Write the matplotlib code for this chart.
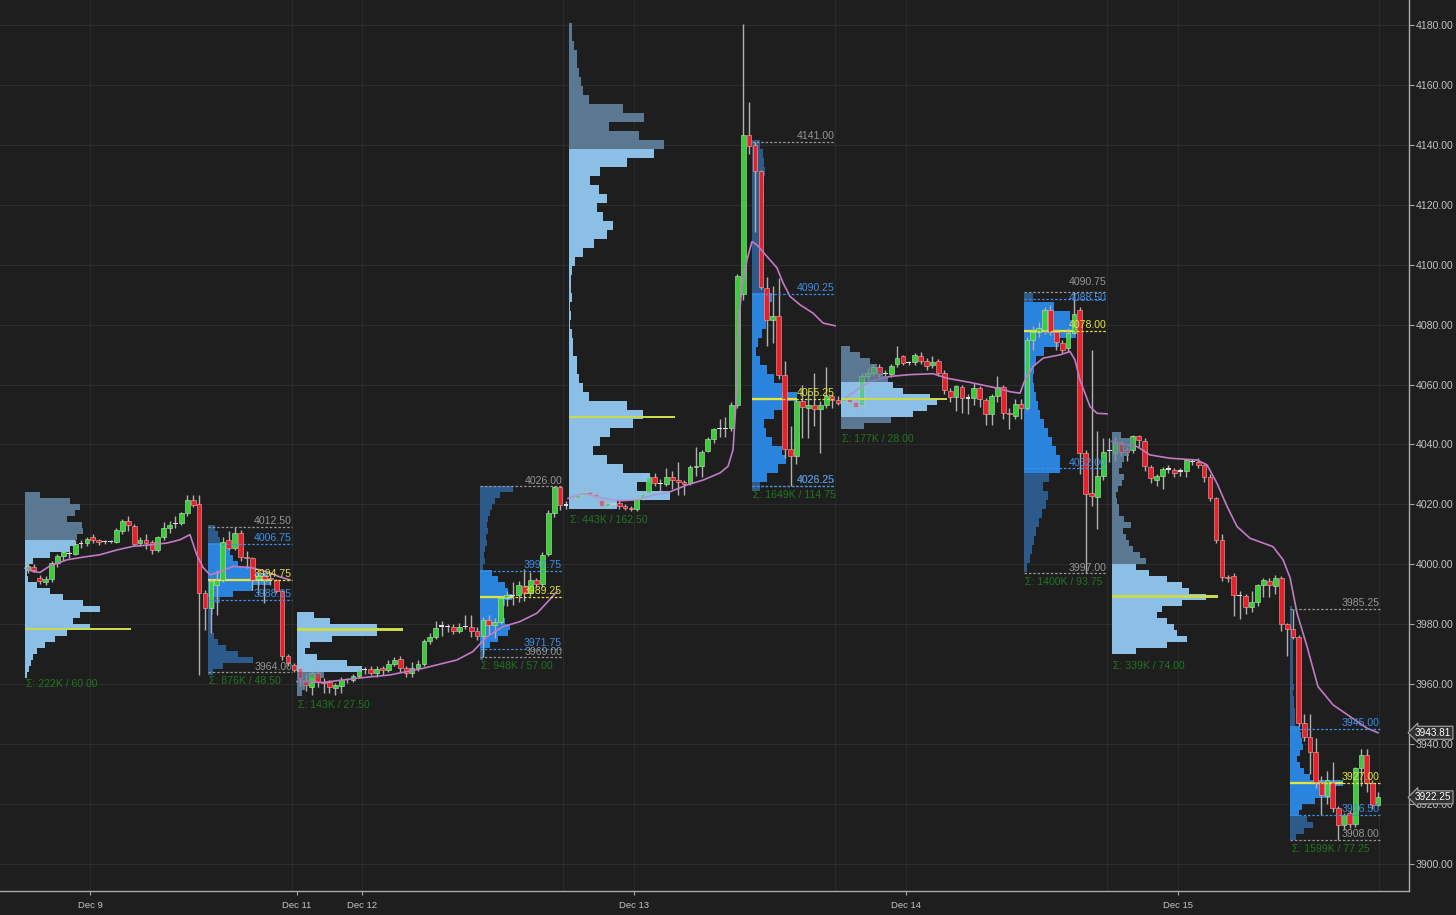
import matplotlib
matplotlib.use('Agg')
import matplotlib.pyplot as plt
import matplotlib.transforms as mtransforms
import numpy as np

plt.rcParams['font.family'] = ['Liberation Sans', 'DejaVu Sans']

BG = '#1e1e1e'

# ---------------- axis data ----------------
# x axis: chart time in hours (Dec 9 00:00 = 0, weekend removed)
date_labels = ['Dec 9', 'Dec 11', 'Dec 12', 'Dec 13', 'Dec 14', 'Dec 15']
date_pos = [0.0, 18.26, 24.0, 48.0, 72.0, 96.0]
vgrid_pos = [0.0, 17.8, 24.0, 41.7, 48.0, 65.7, 72.0, 89.7, 96.0, 113.7]
y_ticks = list(range(3900, 4181, 20))

# session start / end times (hours)
sess_start = [-5.74, 10.41, 18.26, 34.41, 42.26, 58.41, 66.26, 82.41, 90.18, 105.9]
sess_end = [10.41, 18.26, 34.41, 42.26, 58.41, 66.26, 82.41, 90.18, 105.9, 113.9]
rth_line_end = [17.82, 41.65, 65.7, 89.7, 113.8]

# ---------------- candles (open, high, low, close) ----------------
s1 = [(3998.0, 4002.0, 3997.0, 3999.5), (3999.0, 4000.0, 3997.5, 3998.0), (3995.5, 3996.5, 3993.5, 3994.3),
      (3994.0, 3996.0, 3993.0, 3995.0), (3995.1, 4001.0, 3994.0, 4000.4), (4000.4, 4003.5, 3999.0, 4002.8),
      (4002.8, 4005.5, 4001.0, 4004.0), (4003.5, 4004.5, 4002.0, 4003.5), (4003.5, 4008.0, 4003.0, 4006.7),
      (4006.7, 4008.0, 4005.5, 4007.0), (4007.0, 4009.0, 4006.0, 4008.3), (4009.0, 4010.0, 4007.0, 4008.0),
      (4008.0, 4008.5, 4006.5, 4007.5), (4007.5, 4008.0, 4006.8, 4007.6), (4007.6, 4008.0, 4007.0, 4007.8),
      (4007.6, 4012.0, 4007.0, 4011.3), (4011.0, 4015.0, 4010.0, 4014.3), (4014.6, 4016.0, 4011.0, 4013.2),
      (4012.9, 4013.5, 4006.0, 4006.9), (4007.0, 4009.0, 4006.0, 4008.0), (4008.0, 4010.0, 4005.0, 4007.0),
      (4007.3, 4008.0, 4003.5, 4004.8), (4004.8, 4009.5, 4004.0, 4009.0), (4009.0, 4014.0, 4008.0, 4012.0),
      (4012.0, 4014.5, 4010.5, 4013.2), (4013.5, 4016.0, 4012.0, 4013.8), (4013.7, 4017.5, 4013.0, 4017.0),
      (4017.0, 4023.0, 4016.0, 4021.3), (4021.3, 4023.0, 4019.0, 4019.9), (4020.2, 4023.2, 3963.1, 3990.4),
      (3990.4, 3991.5, 3978.2, 3985.4)]
s2 = [(3985.4, 3995.0, 3977.0, 3994.3), (3993.0, 3998.0, 3983.0, 3994.8), (3994.8, 4009.0, 3994.0, 4007.6),
      (4008.0, 4011.0, 4004.8, 4005.4), (4005.4, 4012.5, 4004.8, 4010.4), (4010.4, 4011.5, 4001.0, 4002.6),
      (4002.6, 4004.3, 3998.7, 4002.2), (4002.1, 4002.6, 3991.5, 3994.8), (3995.0, 3997.6, 3989.8, 3996.0),
      (3996.0, 3997.0, 3987.0, 3995.0), (3995.5, 3997.0, 3993.0, 3995.0), (3994.8, 3995.0, 3990.4, 3991.0),
      (3991.0, 3991.5, 3968.0, 3969.3), (3969.3, 3970.0, 3966.0, 3967.0), (3966.5, 3967.0, 3964.0, 3964.8)]
s3 = [(3965.3, 3967.0, 3959.3, 3962.0), (3961.5, 3963.7, 3957.6, 3959.8), (3959.2, 3964.8, 3956.5, 3963.9),
      (3963.9, 3965.0, 3959.0, 3960.9), (3960.9, 3962.0, 3957.0, 3960.3), (3960.9, 3961.5, 3957.0, 3959.0),
      (3958.6, 3960.5, 3956.5, 3959.7), (3959.5, 3962.5, 3957.0, 3961.5), (3961.5, 3962.0, 3960.5, 3961.7),
      (3961.5, 3963.5, 3960.8, 3962.6), (3962.6, 3965.5, 3962.0, 3964.8), (3964.8, 3965.8, 3963.5, 3964.8),
      (3965.0, 3966.0, 3963.0, 3963.7), (3963.7, 3966.0, 3962.5, 3965.0), (3965.3, 3966.0, 3963.0, 3964.8),
      (3964.8, 3968.0, 3964.0, 3966.8), (3966.8, 3969.0, 3966.0, 3968.1), (3968.3, 3969.5, 3964.0, 3965.3),
      (3965.3, 3966.0, 3962.5, 3963.9), (3963.9, 3967.5, 3962.5, 3965.3), (3965.3, 3968.0, 3964.5, 3966.8),
      (3966.8, 3975.0, 3966.0, 3974.5), (3974.5, 3977.0, 3973.5, 3975.9), (3975.6, 3981.0, 3975.0, 3978.9),
      (3979.4, 3981.0, 3976.0, 3979.5), (3979.5, 3980.0, 3977.5, 3979.2), (3979.0, 3980.0, 3976.8, 3977.9),
      (3977.9, 3980.5, 3977.0, 3979.0), (3979.2, 3983.0, 3978.3, 3979.5), (3979.2, 3983.0, 3975.7, 3977.6),
      (3977.6, 3979.0, 3974.6, 3976.0)]
s4 = [(3976.1, 3982.5, 3969.0, 3981.4), (3981.4, 3983.0, 3976.5, 3979.8), (3979.8, 3982.0, 3975.5, 3980.6),
      (3980.9, 3989.5, 3980.0, 3988.7), (3988.7, 3991.0, 3986.0, 3989.8), (3989.8, 3994.0, 3986.5, 3989.6),
      (3989.8, 3994.5, 3987.5, 3993.1), (3992.8, 3998.5, 3987.8, 3990.3), (3990.3, 3997.5, 3989.5, 3994.8),
      (3994.8, 3995.5, 3992.5, 3993.4), (3993.4, 4004.0, 3992.5, 4003.1), (4003.5, 4018.0, 4002.8, 4017.2),
      (4017.2, 4026.0, 4015.8, 4025.9), (4025.9, 4026.0, 4018.0, 4019.8), (4019.8, 4021.0, 4018.5, 4019.8)]
s5 = [(4022.5, 4023.5, 4021.0, 4022.0), (4022.0, 4024.0, 4020.5, 4023.0), (4023.0, 4026.0, 4022.5, 4024.0),
      (4024.0, 4025.0, 4022.5, 4023.5), (4023.5, 4024.0, 4021.0, 4022.3), (4021.4, 4022.0, 4018.8, 4019.5),
      (4019.5, 4022.0, 4019.0, 4020.6), (4020.1, 4021.0, 4019.0, 4020.2), (4020.6, 4021.5, 4018.5, 4019.5),
      (4019.5, 4020.0, 4018.0, 4018.7), (4018.7, 4019.5, 4017.75, 4018.3), (4018.4, 4023.0, 4017.8, 4022.0),
      (4022.2, 4024.5, 4021.5, 4023.5), (4023.7, 4030.0, 4022.5, 4029.3), (4029.3, 4030.5, 4026.0, 4027.0),
      (4027.0, 4028.5, 4023.5, 4027.0), (4026.8, 4032.0, 4026.0, 4029.3), (4029.0, 4031.0, 4025.0, 4028.0),
      (4028.1, 4034.0, 4023.0, 4027.6), (4027.6, 4028.0, 4023.0, 4026.8), (4027.0, 4033.0, 4026.5, 4032.4),
      (4032.4, 4039.0, 4029.5, 4032.8), (4032.8, 4038.0, 4029.0, 4037.6), (4037.9, 4042.5, 4037.5, 4041.7),
      (4041.7, 4045.5, 4040.5, 4045.0), (4045.2, 4048.5, 4042.5, 4045.4), (4045.4, 4049.0, 4042.5, 4045.3),
      (4045.4, 4054.0, 4044.5, 4053.2), (4053.0, 4097.0, 4052.0, 4096.1), (4090.3, 4180.25, 4088.3, 4143.3),
      (4143.3, 4154.1, 4137.0, 4139.7)]
s6 = [(4140.0, 4141.0, 4111.0, 4131.1), (4131.1, 4131.5, 4092.0, 4092.7), (4092.2, 4096.0, 4073.0, 4081.6),
      (4081.6, 4093.0, 4074.0, 4083.0), (4083.0, 4095.5, 4062.0, 4063.3), (4063.3, 4068.0, 4035.5, 4038.5),
      (4038.5, 4046.0, 4026.25, 4036.0), (4036.0, 4055.0, 4033.5, 4054.4), (4054.4, 4060.0, 4042.0, 4052.5),
      (4052.0, 4058.0, 4042.0, 4053.2), (4053.2, 4064.0, 4046.0, 4051.8), (4051.8, 4054.5, 4037.0, 4053.3),
      (4053.3, 4066.0, 4052.0, 4056.0), (4056.3, 4057.0, 4052.0, 4054.9), (4054.9, 4056.0, 4053.0, 4053.8)]
s7 = [(4054.5, 4056.0, 4053.5, 4055.2), (4055.0, 4056.0, 4052.5, 4054.0), (4054.0, 4056.0, 4050.5, 4052.5),
      (4053.3, 4064.0, 4051.5, 4062.7), (4062.7, 4065.5, 4061.5, 4064.0), (4064.0, 4067.0, 4063.0, 4066.0),
      (4066.0, 4067.0, 4062.5, 4063.6), (4063.6, 4065.0, 4062.5, 4063.8), (4063.6, 4067.0, 4062.6, 4066.3),
      (4066.8, 4073.0, 4066.0, 4069.0), (4069.4, 4070.0, 4066.5, 4067.2), (4067.5, 4068.0, 4066.5, 4067.3),
      (4067.4, 4070.5, 4066.5, 4069.7), (4069.4, 4071.0, 4067.0, 4068.0), (4068.0, 4069.0, 4065.0, 4066.3),
      (4066.5, 4069.5, 4065.5, 4067.5), (4067.7, 4068.5, 4063.0, 4064.0), (4064.0, 4065.0, 4057.0, 4058.3),
      (4058.0, 4059.0, 4054.0, 4055.8), (4055.8, 4060.0, 4051.0, 4059.4), (4059.2, 4060.0, 4050.5, 4055.5),
      (4055.5, 4057.0, 4050.0, 4055.6), (4055.5, 4060.5, 4053.0, 4058.8), (4058.8, 4059.5, 4052.5, 4055.1),
      (4054.9, 4055.5, 4046.5, 4050.3), (4050.3, 4057.0, 4046.5, 4056.0), (4056.0, 4063.0, 4054.0, 4059.1),
      (4059.1, 4060.0, 4048.5, 4050.4), (4050.5, 4052.0, 4045.0, 4050.0), (4049.6, 4055.0, 4048.5, 4053.6),
      (4053.6, 4055.0, 4048.5, 4052.2)]
s8 = [(4052.1, 4076.0, 4051.5, 4074.9), (4074.9, 4079.5, 4071.5, 4077.6), (4077.6, 4081.0, 4076.0, 4078.8),
      (4078.2, 4086.0, 4077.0, 4084.9), (4084.9, 4086.5, 4076.5, 4077.6), (4077.6, 4078.5, 4071.5, 4074.3),
      (4073.8, 4075.0, 4070.5, 4071.5), (4072.1, 4079.0, 4071.0, 4077.1), (4077.3, 4090.75, 4077.0, 4083.4),
      (4084.9, 4086.0, 4030.0, 4037.1), (4037.3, 4038.0, 3997.0, 4023.5), (4023.7, 4071.5, 4019.3, 4022.8),
      (4022.6, 4044.5, 4011.8, 4029.5), (4029.5, 4042.0, 4028.0, 4037.6), (4038.0, 4042.0, 4034.0, 4038.0)]
s9 = [(4037.1, 4042.5, 4034.5, 4040.4), (4040.0, 4041.0, 4036.0, 4037.6), (4038.0, 4039.0, 4034.5, 4037.5),
      (4038.0, 4043.25, 4037.0, 4042.9), (4042.9, 4043.0, 4039.0, 4041.5), (4041.3, 4042.0, 4031.0, 4032.8),
      (4032.6, 4033.0, 4027.0, 4028.7), (4028.3, 4030.0, 4026.0, 4029.4), (4029.4, 4032.5, 4025.0, 4031.7),
      (4031.7, 4033.0, 4030.5, 4031.8), (4031.5, 4032.0, 4029.0, 4030.6), (4031.0, 4032.0, 4029.5, 4031.2),
      (4031.0, 4035.0, 4029.0, 4034.8), (4034.3, 4035.0, 4033.0, 4034.2), (4034.3, 4035.5, 4032.0, 4033.2),
      (4033.2, 4033.5, 4027.5, 4029.3), (4029.3, 4030.0, 4021.0, 4022.1), (4022.1, 4022.5, 4007.0, 4008.2),
      (4008.2, 4010.0, 3994.5, 3995.9), (3995.9, 3996.5, 3994.0, 3995.3), (3996.2, 3997.0, 3982.8, 3989.8),
      (3989.8, 3991.0, 3981.7, 3989.6), (3989.5, 3990.0, 3983.5, 3985.9), (3985.7, 3991.0, 3984.0, 3987.3),
      (3987.3, 3993.5, 3986.0, 3993.2), (3993.0, 3995.5, 3989.0, 3994.8), (3994.6, 3995.5, 3989.0, 3993.0),
      (3992.8, 3996.5, 3990.0, 3995.5), (3995.3, 3996.0, 3977.7, 3980.1), (3980.1, 3980.5, 3969.25, 3978.4)]
s10 = [(3978.4, 3985.25, 3975.0, 3975.9), (3975.9, 3976.5, 3946.0, 3947.0), (3947.0, 3950.0, 3941.0, 3942.5),
       (3942.5, 3950.0, 3930.0, 3937.5), (3937.5, 3942.0, 3925.5, 3927.5), (3927.5, 3929.5, 3916.5, 3923.1),
       (3922.7, 3931.0, 3920.0, 3928.1), (3927.5, 3934.0, 3917.5, 3918.6), (3918.6, 3919.5, 3908.0, 3913.1),
       (3913.1, 3917.0, 3911.5, 3916.4), (3917.0, 3918.0, 3912.0, 3913.4), (3913.4, 3932.5, 3912.5, 3932.0),
       (3932.0, 3938.5, 3926.0, 3936.4), (3936.4, 3938.5, 3924.0, 3927.0), (3927.0, 3928.0, 3918.5, 3919.7),
       (3919.7, 3924.0, 3919.5, 3922.25)]
sessions = [s1, s2, s3, s4, s5, s6, s7, s8, s9, s10]

# ---------------- VWAP per trading day (time h, price) ----------------
vwap1_t = [-5.74, -5.03, -4.41, -3.53, -2.03, -0.62, 0.88, 2.38, 3.79, 5.29, 6.79, 7.94, 8.82, 9.44, 9.97,
           10.59, 11.47, 12.62, 14.12, 15.62, 16.76, 17.65]
vwap1_v = [3998.7, 3997.6, 3997.3, 3999.5, 4001.5, 4002.4, 4003.2, 4004.8, 4006.0, 4006.5, 4007.1, 4008.2,
           4009.9, 4003.0, 3999.0, 3996.5, 3997.5, 3999.3, 3999.0, 3997.5, 3995.8, 3994.8]
vwap2_t = [18.26, 20.56, 23.56, 26.47, 29.38, 32.38, 33.79, 35.03, 36.44, 37.94, 39.44, 40.41, 41.21]
vwap2_v = [3960.9, 3960.6, 3962.0, 3963.1, 3965.3, 3968.1, 3970.9, 3975.9, 3979.2, 3980.9, 3983.7, 3987.6, 3991.0]
vwap3_t = [42.18, 43.50, 45.26, 46.77, 48.27, 49.68, 51.18, 52.68, 54.09, 55.59, 56.30, 56.74, 57.09, 57.26,
           57.53, 57.97, 58.41, 58.85, 59.74, 60.62, 61.15, 61.77, 62.65, 63.80, 64.68, 65.74]
vwap3_v = [4022.0, 4023.7, 4022.0, 4021.2, 4021.5, 4023.1, 4024.2, 4026.5, 4028.1, 4030.5, 4032.7, 4038.3,
           4059.4, 4081.6, 4092.7, 4101.6, 4107.7, 4106.6, 4102.7, 4098.9, 4093.9, 4089.4, 4086.6, 4083.8,
           4080.5, 4079.6]
vwap4_t = [66.44, 67.68, 68.82, 70.59, 72.35, 74.38, 75.62, 77.65, 80.03, 81.18, 82.06, 82.50, 83.21, 84.09,
           85.59, 86.47, 86.91, 87.35, 88.24, 88.85, 89.74]
vwap4_v = [4054.9, 4058.3, 4061.0, 4062.7, 4063.3, 4063.6, 4062.1, 4060.7, 4058.8, 4057.6, 4057.1, 4061.5,
           4066.0, 4068.8, 4069.9, 4071.0, 4068.2, 4061.5, 4052.6, 4050.4, 4050.2]
vwap5_t = [90.18, 91.33, 92.38, 93.53, 95.30, 97.68, 98.56, 99.44, 100.33, 101.21, 102.35, 104.38, 105.27,
           105.89, 106.50, 107.38, 108.35, 109.68, 111.18, 112.68, 113.65]
vwap5_v = [4041.0, 4040.0, 4039.3, 4036.5, 4035.4, 4034.8, 4033.2, 4027.0, 4019.3, 4012.6, 4008.7, 4005.9,
           4001.5, 3995.5, 3983.7, 3972.6, 3959.2, 3953.1, 3949.2, 3945.3, 3943.8]
vwaps = [(vwap1_t, vwap1_v), (vwap2_t, vwap2_v), (vwap3_t, vwap3_v), (vwap4_t, vwap4_v), (vwap5_t, vwap5_v)]

# ---------------- volume profiles ----------------
profA_vol = [15, 45, 55, 50, 42, 57, 58, 52, 50, 45, 25, 8, 3, 2, 3, 12, 25, 38, 58, 75, 55, 48, 65, 42, 30, 20,
             12, 8, 6, 4, 2]
profC_vol = [17, 33, 80, 80, 35, 13, 8, 20, 50, 65, 27, 13, 8, 5]
profE_vol = [3, 3, 5, 8, 8, 10, 12, 14, 20, 54, 75, 40, 70, 95, 85, 58, 31, 21, 30, 38, 28, 34, 44, 38, 25, 14, 6,
             3, 2, 2, 3, 1, 2, 1, 3, 4, 4, 8, 8, 10, 14, 20, 58, 74, 64, 41, 31, 24, 38, 54, 81, 68, 101, 48]
profG_vol = [9, 19, 29, 36, 42, 47, 52, 62, 89, 96, 86, 72, 50, 23]
profI_vol = [9, 21, 22, 17, 12, 10, 7, 12, 10, 6, 4, 5, 7, 7, 12, 19, 11, 14, 17, 21, 28, 34, 24, 37, 55, 70, 77,
             94, 70, 50, 45, 55, 62, 65, 75, 55, 24]
# (left, top level, step, volumes, VA high, VA low, POC, label, session low)
eth_profiles = [
    (sess_start[0], 4023, 2, profA_vol, 4008.5, 3900.0, 3978.5, 'Σ: 222K / 60.00', 3963.25),
    (sess_start[2], 3983, 2, profC_vol, 4100.0, 3964.5, 3978.25, 'Σ: 143K / 27.50', 3956.0),
    (sess_start[4], 4179, 3, profE_vol, 4137.0, 3900.0, 4049.25, 'Σ: 443K / 162.50', 4017.75),
    (sess_start[6], 4072, 2, profG_vol, 4060.5, 4048.5, 4055.25, 'Σ: 177K / 28.00', 4045.0),
    (sess_start[8], 4043, 2, profI_vol, 3999.5, 3900.0, 3989.25, 'Σ: 339K / 74.00', 3969.25),
]
ETH_POC_VOL = 106

profB_vol = [7, 10, 12, 18, 22, 25, 30, 45, 60, 62, 45, 25, 12, 7, 5, 4, 3, 4, 6, 10, 18, 30, 45, 15, 5]
profD_vol = [33, 20, 15, 12, 10, 8, 7, 8, 6, 7, 5, 4, 5, 3, 12, 18, 25, 28, 32, 25, 22, 20, 25, 30, 28, 18, 10, 5, 3]
profF_vol = [8, 11, 12, 13, 12, 11, 12, 11, 10, 10, 9, 9, 8, 8, 8, 9, 12, 20, 18, 16, 14, 10, 6, 4, 8, 15, 22, 30,
             45, 35, 22, 12, 14, 20, 30, 34, 26, 15, 8]
profH_vol = [9, 30, 46, 48, 52, 35, 20, 12, 10, 9, 10, 12, 14, 16, 20, 24, 28, 32, 36, 36, 25, 19, 24, 22, 18, 15,
             12, 10, 8, 6, 3]
profJ_vol = [2, 2, 2, 2, 2, 3, 3, 3, 3, 3, 3, 3, 3, 4, 3, 4, 4, 5, 5, 5, 10, 11, 12, 13, 10, 7, 10, 14, 20, 53, 45,
             40, 25, 12, 9, 17, 23, 14, 6]
# (left, line end, top level, step, volumes, (high, VAH, POC, VAL, low), label)
rth_profiles = [
    (sess_start[1], rth_line_end[0], 4012, 2, profB_vol, (4012.50, 4006.75, 3994.75, 3988.25, 3964.00), 'Σ: 876K / 48.50'),
    (sess_start[3], rth_line_end[1], 4025, 2, profD_vol, (4026.00, 3997.75, 3989.25, 3971.75, 3969.00), 'Σ: 948K / 57.00'),
    (sess_start[5], rth_line_end[2], 4140, 3, profF_vol, (4141.00, 4090.25, 4055.25, 4026.25, 4026.25), 'Σ: 1649K / 114.75'),
    (sess_start[7], rth_line_end[3], 4089, 3, profH_vol, (4090.75, 4088.50, 4078.00, 4032.00, 3997.00), 'Σ: 1400K / 93.75'),
    (sess_start[9], rth_line_end[4], 3985, 2, profJ_vol, (3985.25, 3945.00, 3927.00, 3916.50, 3908.00), 'Σ: 1599K / 77.25'),
]

marker_prices = [3943.81, 3922.25]

# ---------------- styling ----------------
PX_PER_H = 11.333
VOL_SCALE = 1.0 / PX_PER_H
BODY_W = 0.42
C_UP, C_DN, C_WICK = '#3acd3a', '#e8202a', '#b0b0b0'
ETH_IN, ETH_OUT = '#8bbfe5', '#5a7891'
RTH_IN, RTH_OUT = '#2a84de', '#2c5b8b'
POC_ETH = '#c9da4c'
C_GREY, C_BLUE, C_YEL = '#959595', '#3d8fe8', '#e4e43a'
C_SIGMA = '#217421'
FS = 7.6

fig = plt.figure(figsize=(14.56, 9.15), dpi=100, facecolor=BG)
ax = fig.add_axes([0, 24 / 915, 1409 / 1456, 891 / 915])
ax.set_facecolor(BG)
ax.set_xlim(-7.94, 116.38)
ax.set_ylim(3891.0, 4188.3)

for y in y_ticks:
    ax.axhline(y, color='#2c2c2c', lw=0.8, zorder=0)
for x in vgrid_pos:
    ax.axvline(x, color='#2a2a2a', lw=0.8, zorder=0)


def profile_bars(left, top, step, vols, va_hi, va_lo, c_in, c_out, z, alpha=1.0):
    levels = top - step * np.arange(len(vols))
    inside = (levels <= va_hi) & (levels >= va_lo)
    cols = [c_in if f else c_out for f in inside]
    ax.barh(levels, np.array(vols) * VOL_SCALE, height=step, left=left, color=cols,
            lw=0, zorder=z, alpha=alpha)


# overnight profiles (base layer)
for left, top, step, vols, vh, vl, poc, lab, low in eth_profiles:
    profile_bars(left, top, step, vols, vh, vl, ETH_IN, ETH_OUT, 1)

# RTH profiles (behind candles)
for left, right, top, step, vols, stats, lab in rth_profiles:
    hi, vah, poc, val, lo = stats
    profile_bars(left, top, step, vols, vah, val, RTH_IN, RTH_OUT, 1)
    pv = max(vols) * VOL_SCALE
    ax.hlines(poc, left, left + pv, colors=C_YEL, lw=1.6, zorder=2)

# candles
for data, st, en in zip(sessions, sess_start, sess_end):
    n = len(data)
    sp = (en - st) / n
    xs = st + (np.arange(n) + 0.5) * sp
    o, h, l, c = np.array(data).T
    ax.vlines(xs, l, h, color=C_WICK, lw=1.0, zorder=3)
    up = c > o + 0.3
    dn = c < o - 0.3
    fl = ~(up | dn)
    ax.bar(xs[up], (c - o)[up], bottom=o[up], width=BODY_W, color=C_UP, edgecolor='#bfe8bf', lw=0.4, zorder=3.2)
    ax.bar(xs[dn], (c - o)[dn], bottom=o[dn], width=BODY_W, color=C_DN, edgecolor='#f0b0b0', lw=0.4, zorder=3.2)
    ax.bar(xs[fl], 0.45, bottom=((o + c) / 2)[fl] - 0.22, width=BODY_W, color='#e0e0e0', lw=0, zorder=3.2)

# VWAP
for t, v in vwaps:
    ax.plot(t, v, color='#c27ac4', lw=1.2, zorder=3.5)

# overnight profile wash over candles + POC bar + sigma label
for left, top, step, vols, vh, vl, poc, lab, low in eth_profiles:
    profile_bars(left, top, step, vols, vh, vl, ETH_IN, ETH_OUT, 4, alpha=0.5)
    ax.barh(poc, ETH_POC_VOL * VOL_SCALE, height=0.8, left=left, color=POC_ETH, lw=0, zorder=4.5)
    ax.annotate(lab, (left, low), xytext=(1, -3), textcoords='offset points', ha='left', va='top',
                fontsize=FS, color=C_SIGMA, zorder=6)

# RTH level lines and labels
for left, right, top, step, vols, stats, lab in rth_profiles:
    hi, vah, poc, val, lo = stats
    close_top = (hi - vah) < 3
    for price, col, name in [(hi, C_GREY, 'hi'), (lo, C_GREY, 'lo'), (vah, C_BLUE, 'vah'),
                             (val, C_BLUE, 'val'), (poc, C_YEL, 'poc')]:
        ax.hlines(price, left, right, colors=col, linestyles=(0, (2, 1.5)), lw=0.9, zorder=5)
        if name == 'vah' and close_top:
            ax.annotate(f'{price:.2f}', (right, price), xytext=(0, 0.5), textcoords='offset points',
                        ha='right', va='center', fontsize=FS, color=col, zorder=6)
        elif name == 'hi' and close_top:
            ax.annotate(f'{price:.2f}', (right, price), xytext=(0, 4.2), textcoords='offset points',
                        ha='right', va='bottom', fontsize=FS, color=col, zorder=6)
        else:
            ax.annotate(f'{price:.2f}', (right, price), xytext=(0, 0.5), textcoords='offset points',
                        ha='right', va='bottom', fontsize=FS, color=col, zorder=6)
    ax.annotate(lab, (left, lo), xytext=(1, -3), textcoords='offset points', ha='left', va='top',
                fontsize=FS, color=C_SIGMA, zorder=6)

# axes styling
for s in ['left', 'top']:
    ax.spines[s].set_visible(False)
for s in ['right', 'bottom']:
    ax.spines[s].set_color('#a8a8a8')
    ax.spines[s].set_linewidth(1.0)
ax.yaxis.tick_right()
ax.set_yticks(y_ticks)
ax.set_yticklabels([f'{v:.2f}' for v in y_ticks])
ax.tick_params(axis='y', colors='#a8a8a8', labelcolor='#c4c4c4', labelsize=FS, length=3.5, width=0.8, pad=1.5)
ax.set_xticks(date_pos)
ax.set_xticklabels(date_labels)
ax.tick_params(axis='x', colors='#a8a8a8', labelcolor='#c4c4c4', labelsize=6.8, length=3, width=0.8, pad=4)

trans = mtransforms.blended_transform_factory(ax.transAxes, ax.transData)
for p in marker_prices:
    ax.text(1.0 + 6 / 1409, p, f'{p:.2f}', transform=trans, ha='left', va='center', fontsize=7.2,
            color='white', zorder=10, clip_on=False,
            bbox=dict(boxstyle='larrow,pad=0.15', fc='#303030', ec='#a8a8a8', lw=0.8))

fig.savefig('out.png', dpi=100, facecolor=BG)
